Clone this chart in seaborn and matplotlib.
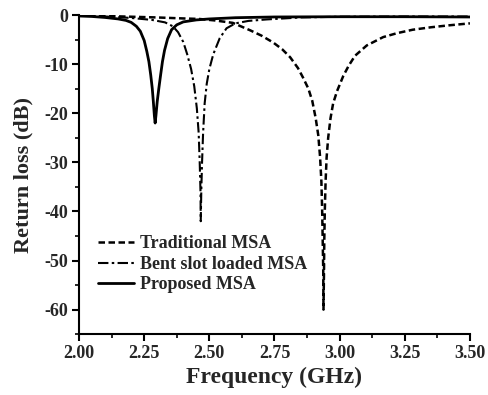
import numpy as np
import pandas as pd
import seaborn as sns
import matplotlib.pyplot as plt
from matplotlib.ticker import MultipleLocator

# Return loss curves (frequency in GHz, loss in dB)
trad_freq = [2.00, 2.10, 2.20, 2.30, 2.40, 2.46, 2.52, 2.59, 2.656, 2.70, 2.745, 2.78,
             2.81, 2.84, 2.86, 2.88, 2.895, 2.908, 2.918, 2.925, 2.930, 2.933, 2.935,
             2.937, 2.938, 2.940, 2.941, 2.943, 2.946, 2.950, 2.956, 2.965, 2.975,
             2.99, 3.014, 3.035, 3.059, 3.104, 3.167, 3.22, 3.28, 3.35, 3.42, 3.50]
trad_loss = [-0.1, -0.2, -0.35, -0.5, -0.7, -0.8, -1.1, -1.6, -3.1, -4.2, -5.6, -7.0,
             -8.6, -10.8, -12.8, -15.0, -17.5, -21.0, -24.5, -29.0, -34.0, -40.0, -46.0,
             -52.0, -60.0, -52.0, -46.0, -40.0, -34.0, -29.0, -25.0, -21.0, -18.0,
             -15.5, -12.4, -10.3, -8.3, -6.2, -4.5, -3.7, -3.0, -2.5, -2.1, -1.7]

bent_freq = [2.00, 2.10, 2.20, 2.28, 2.33, 2.36, 2.38, 2.40, 2.415, 2.43, 2.442, 2.452,
             2.459, 2.463, 2.466, 2.467, 2.469, 2.472, 2.476, 2.482, 2.49, 2.50, 2.515,
             2.54, 2.566, 2.60, 2.65, 2.72, 2.85, 3.00, 3.25, 3.50]
bent_loss = [-0.1, -0.3, -0.6, -1.0, -1.5, -2.3, -3.5, -5.5, -8.0, -11.0, -14.5, -19.0,
             -24.0, -30.0, -36.0, -42.0, -36.0, -30.0, -24.0, -18.0, -14.0, -11.0, -8.0,
             -4.7, -2.7, -1.7, -1.2, -0.9, -0.5, -0.35, -0.3, -0.3]

prop_freq = [2.00, 2.05, 2.10, 2.15, 2.18, 2.20, 2.22, 2.235, 2.25, 2.26, 2.268, 2.275,
             2.281, 2.285, 2.289, 2.292, 2.295, 2.300, 2.306, 2.313, 2.320, 2.328, 2.340,
             2.355, 2.375, 2.40, 2.45, 2.50, 2.60, 2.75, 3.00, 3.25, 3.50]
prop_loss = [-0.2, -0.3, -0.5, -0.8, -1.1, -1.5, -2.3, -3.3, -5.2, -7.4, -9.5, -12.2,
             -15.0, -17.6, -20.5, -22.0, -20.5, -17.6, -15.0, -12.2, -9.5, -7.2, -4.8,
             -3.0, -2.0, -1.4, -1.0, -0.8, -0.55, -0.4, -0.35, -0.35, -0.4]

labels = ['Traditional MSA', 'Bent slot loaded MSA', 'Proposed MSA']

sns.set_style("ticks")
plt.rcParams['font.family'] = ['Liberation Serif', 'DejaVu Serif']
plt.rcParams['font.weight'] = 'bold'
plt.rcParams['axes.unicode_minus'] = False

fig = plt.figure(figsize=(4.88, 3.95), dpi=100)
ax = fig.add_axes([0.162, 0.154, 0.801, 0.808])

styles = [(0, (2.6, 1.4)), (0, (5, 1.6, 1.2, 1.6)), '-']
widths = [1.8, 1.5, 2.0]
curves = [(trad_freq, trad_loss), (bent_freq, bent_loss), (prop_freq, prop_loss)]

for (freq, loss), label, ls, lw in zip(curves, labels, styles, widths):
    sns.lineplot(x=freq, y=loss, ax=ax, color='black', linestyle=ls, lw=lw,
                 label=label, sort=False)

ax.set_xlim(2.0, 3.5)
ax.set_ylim(-65, 0)
ax.xaxis.set_major_locator(MultipleLocator(0.25))
ax.xaxis.set_minor_locator(MultipleLocator(0.125))
ax.yaxis.set_major_locator(MultipleLocator(10))
ax.yaxis.set_minor_locator(MultipleLocator(5))
ax.xaxis.set_major_formatter(plt.FormatStrFormatter('%.2f'))

sns.despine(ax=ax)
for side in ['left', 'bottom']:
    ax.spines[side].set_linewidth(1.5)
    ax.spines[side].set_color('black')
ax.tick_params(which='major', direction='out', length=5, width=1.5, labelsize=13,
               color='black', pad=3)
ax.tick_params(which='minor', direction='out', length=3, width=1.2, color='black')

ax.set_xlabel('Frequency (GHz)', fontsize=17, fontweight='bold', labelpad=3)
ax.set_ylabel('Return loss (dB)', fontsize=16, fontweight='bold', labelpad=8)

leg = ax.legend(loc='lower left', bbox_to_anchor=(0.03, 0.105), frameon=False,
                fontsize=13, handlelength=2.0, handletextpad=0.3, labelspacing=0.2,
                borderaxespad=0)

fig.savefig('out.png', dpi=100)
